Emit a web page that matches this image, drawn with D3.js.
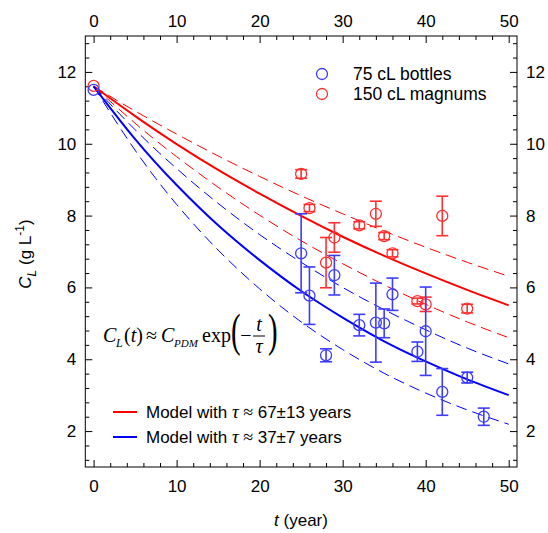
<!DOCTYPE html>
<html>
<head>
<meta charset="utf-8">
<script src="https://cdn.jsdelivr.net/npm/d3@7"></script>
<style>
    body { margin: 0; background: #fff; }
    svg { display: block; font-family: "Liberation Sans", Arial, sans-serif; }
    .axis text { font-size: 17px; fill: #000; font-family: "Liberation Sans", Arial, sans-serif; }
    .axis line { stroke: #000; stroke-width: 1; }
    .serif { font-family: "Liberation Serif", "Times New Roman", serif; }
</style>
</head>
<body>
<div id="chart"></div>
<script>
(function () {
    'use strict';

    // measured points, t in years, C_L in g/L
    var redT = [0, 25, 26, 28, 29, 32, 34, 35, 36, 39, 40, 42, 45];
    var redC = [11.61, 9.16, 8.21, 6.69, 7.39, 7.73, 8.05, 7.43, 6.95, 5.62, 5.53, 7.99, 5.41];
    var redErr = [0, 0.12, 0.1, 0.7, 0.41, 0.1, 0.35, 0.1, 0.1, 0.08, 0.2, 0.55, 0.12];

    var blueT = [0, 25, 26, 28, 29, 32, 34, 35, 36, 39, 40, 42, 45, 47];
    var blueC = [11.5, 6.95, 5.77, 4.11, 6.34, 4.95, 5.02, 5.0, 5.81, 4.21, 4.78, 3.09, 3.49, 2.4];
    var blueErr = [0, 1.1, 0.8, 0.18, 0.55, 0.3, 1.1, 0.4, 0.45, 0.27, 1.23, 0.65, 0.15, 0.24];

    // model curves
    var modelT = [0, 5, 10, 15, 20, 25, 30, 35, 40, 45, 50];
    var redFit = [11.6, 10.77, 9.99, 9.27, 8.61, 7.99, 7.41, 6.88, 6.39, 5.93, 5.5];
    var redUpper = [11.6, 10.91, 10.27, 9.66, 9.09, 8.55, 8.05, 7.57, 7.12, 6.7, 6.31];
    var redLower = [11.6, 10.57, 9.64, 8.79, 8.01, 7.3, 6.66, 6.07, 5.53, 5.04, 4.6];
    var blueFit = [11.6, 10.13, 8.85, 7.73, 6.76, 5.9, 5.16, 4.5, 3.94, 3.44, 3.0];
    var blueUpper = [11.6, 10.39, 9.31, 8.34, 7.47, 6.7, 6.0, 5.38, 4.82, 4.31, 3.87];
    var blueLower = [11.6, 9.82, 8.31, 7.04, 5.96, 5.04, 4.27, 3.61, 3.06, 2.59, 2.19];

    var xTicks = [0, 10, 20, 30, 40, 50];
    var yTicks = [2, 4, 6, 8, 10, 12];

    var w = 548,
        h = 533;
    var left = 85.3, right = 517, top = 36, bottom = 467;

    var red = "#ff0000", blue = "#0000ff";
    var redPt = "#ff3030", bluePt = "#3c3cff";

    var svg = d3.select("#chart")
        .append("svg")
        .attr("width", w)
        .attr("height", h);

    var x = d3.scaleLinear().domain([-1, 51]).range([left, right]),
        y = d3.scaleLinear().domain([1, 13]).range([bottom, top]);

    var xMinor = d3.range(0, 51, 2).filter(function (v) { return v % 10 !== 0; });
    var yMinor = d3.range(12, 131, 4).map(function (v) { return v / 10; })
        .filter(function (v) { return Math.abs(v / 2 - Math.round(v / 2)) > 1e-6; });

    function axis(fn, tr, sc, major, minor, pad) {
        var g = svg.append("g")
            .attr("class", "axis")
            .attr("transform", tr);
        g.call(fn(sc).tickValues(major).tickSize(-7).tickSizeOuter(0).tickPadding(pad));
        g.append("g").call(fn(sc).tickValues(minor).tickSize(-4).tickSizeOuter(0).tickFormat(""));
        g.selectAll(".domain").remove();
        return g;
    }

    axis(d3.axisBottom, "translate(0," + bottom + ")", x, xTicks, xMinor, 13);
    axis(d3.axisTop, "translate(0," + top + ")", x, xTicks, xMinor, 9);
    axis(d3.axisLeft, "translate(" + left + ",0)", y, yTicks, yMinor, 9);
    axis(d3.axisRight, "translate(" + right + ",0)", y, yTicks, yMinor, 9);

    svg.append("rect")
        .attr("x", left).attr("y", top)
        .attr("width", right - left).attr("height", bottom - top)
        .attr("fill", "none").attr("stroke", "#000").attr("stroke-width", 1);

    var line = d3.line()
        .curve(d3.curveNatural)
        .x(function (d) { return x(d[0]); })
        .y(function (d) { return y(d[1]); });

    var curves = [
        { v: redUpper, c: red, dash: true },
        { v: redLower, c: red, dash: true },
        { v: blueUpper, c: blue, dash: true },
        { v: blueLower, c: blue, dash: true },
        { v: redFit, c: red, dash: false },
        { v: blueFit, c: blue, dash: false }
    ];

    svg.append("g").selectAll("path")
        .data(curves)
        .enter().append("path")
        .attr("d", function (d) { return line(modelT.map(function (t, i) { return [t, d.v[i]]; })); })
        .attr("fill", "none")
        .attr("stroke", function (d) { return d.c; })
        .attr("stroke-width", function (d) { return d.dash ? 1 : 2; })
        .attr("stroke-dasharray", function (d) { return d.dash ? "11,6" : null; });

    function points(ts, cs, es, col) {
        var pts = ts.map(function (t, i) { return { t: t, c: cs[i], e: es[i] }; });
        var g = svg.append("g")
            .attr("stroke", col)
            .attr("fill", "none");
        var bars = pts.filter(function (d) { return d.e > 0; });
        g.selectAll(".eb").data(bars).enter().append("line")
            .attr("x1", function (d) { return x(d.t); })
            .attr("x2", function (d) { return x(d.t); })
            .attr("y1", function (d) { return y(d.c + d.e); })
            .attr("y2", function (d) { return y(d.c - d.e); })
            .attr("stroke-width", 1.6);
        [1, -1].forEach(function (s) {
            g.selectAll(".cap" + s).data(bars).enter().append("line")
                .attr("x1", function (d) { return x(d.t) - 6; })
                .attr("x2", function (d) { return x(d.t) + 6; })
                .attr("y1", function (d) { return y(d.c + s * d.e); })
                .attr("y2", function (d) { return y(d.c + s * d.e); })
                .attr("stroke-width", 1.6);
        });
        g.selectAll("circle").data(pts).enter().append("circle")
            .attr("cx", function (d) { return x(d.t); })
            .attr("cy", function (d) { return y(d.c); })
            .attr("r", 5.5)
            .attr("stroke-width", 1.3);
    }

    points(redT, redC, redErr, redPt);
    points(blueT, blueC, blueErr, bluePt);

    // legend, top right
    var leg = [["75 cL bottles", bluePt, 74], ["150 cL magnums", redPt, 94]];
    leg.forEach(function (l) {
        svg.append("circle").attr("cx", 322).attr("cy", l[2]).attr("r", 5.5)
            .attr("fill", "none").attr("stroke", l[1]).attr("stroke-width", 1.3);
        svg.append("text").attr("x", 353).attr("y", l[2] + 6.3)
            .style("font-size", "17.5px").text(l[0]);
    });

    // model legend, bottom left
    var mleg = [[red, 412, "67±13"], [blue, 437, "37±7"]];
    mleg.forEach(function (l) {
        svg.append("line").attr("x1", 113).attr("x2", 137)
            .attr("y1", l[1]).attr("y2", l[1])
            .attr("stroke", l[0]).attr("stroke-width", 2);
        var t = svg.append("text").attr("x", 146).attr("y", l[1] + 6)
            .style("font-size", "17px");
        t.append("tspan").text("Model with ");
        t.append("tspan").attr("class", "serif").style("font-style", "italic").style("font-size", "19px").text("τ");
        t.append("tspan").attr("class", "serif").style("font-size", "18px").text(" ≈ ");
        t.append("tspan").text(l[2] + " years");
    });

    // formula
    var f = svg.append("g").attr("class", "serif").style("font-size", "20px");
    f.append("text").attr("x", 103).attr("y", 342).style("font-style", "italic").text("C");
    f.append("text").attr("x", 116).attr("y", 347).style("font-style", "italic").style("font-size", "12px").text("L");
    var ft = f.append("text").attr("x", 124).attr("y", 342);
    ft.append("tspan").text("(");
    ft.append("tspan").style("font-style", "italic").text("t");
    ft.append("tspan").text(")");
    f.append("text").attr("x", 146).attr("y", 342).text("≈");
    f.append("text").attr("x", 161).attr("y", 342).style("font-style", "italic").text("C");
    f.append("text").attr("x", 174).attr("y", 347).style("font-style", "italic").style("font-size", "11px").text("PDM");
    f.append("text").attr("x", 202).attr("y", 342).text("exp");
    f.append("text").attr("transform", "translate(231,346) scale(0.6,0.95)").style("font-size", "48px").text("(");
    f.append("text").attr("x", 246).attr("y", 342).attr("text-anchor", "middle").text("−");
    f.append("text").attr("x", 259).attr("y", 331).attr("text-anchor", "middle").style("font-style", "italic").text("t");
    f.append("line").attr("x1", 253).attr("x2", 265).attr("y1", 336).attr("y2", 336)
        .attr("stroke", "#000").attr("stroke-width", 1);
    f.append("text").attr("x", 259).attr("y", 353).attr("text-anchor", "middle").style("font-style", "italic").text("τ");
    f.append("text").attr("transform", "translate(268,346) scale(0.6,0.95)").style("font-size", "48px").text(")");

    // axis titles
    var xt = svg.append("text").attr("x", 301).attr("y", 526)
        .attr("text-anchor", "middle").style("font-size", "17px");
    xt.append("tspan").style("font-style", "italic").text("t");
    xt.append("tspan").text(" (year)");

    var yt = svg.append("text")
        .attr("transform", "translate(31,254) rotate(-90)")
        .attr("text-anchor", "middle").style("font-size", "17px");
    yt.append("tspan").style("font-style", "italic").text("C");
    yt.append("tspan").attr("dy", 5).style("font-size", "12px").style("font-style", "italic").text("L");
    yt.append("tspan").attr("dy", -5).text(" (g L");
    yt.append("tspan").attr("dy", -7).style("font-size", "12px").text("-1");
    yt.append("tspan").attr("dy", 7).text(")");
})();
</script>
</body>
</html>
